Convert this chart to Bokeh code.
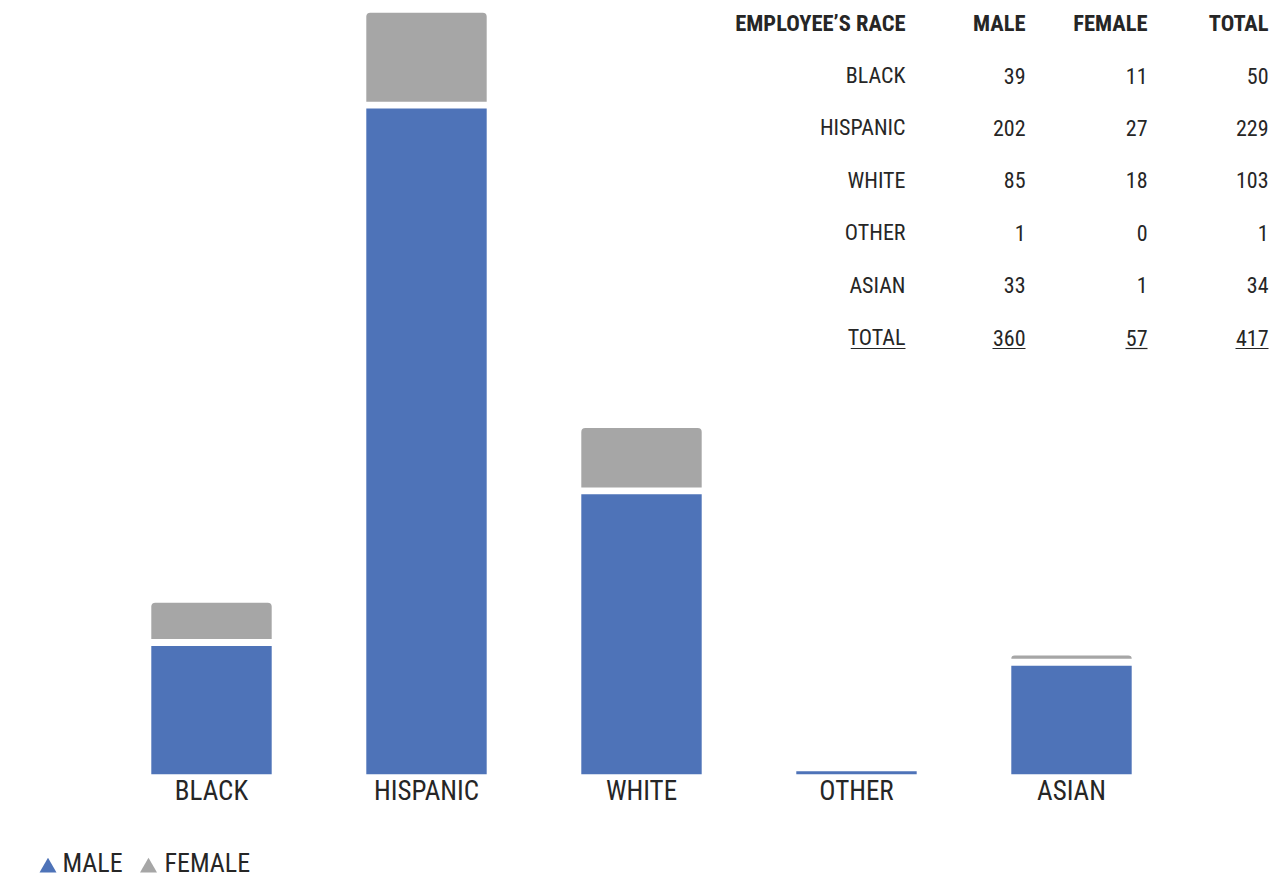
from bokeh.plotting import figure
from bokeh.layouts import column
from bokeh.models import Range1d, FixedTicker, ColumnDataSource
from bokeh.core.properties import value
from bokeh.embed import file_html
from bokeh.resources import INLINE

# ---------------- data ----------------
categories = ["BLACK", "HISPANIC", "WHITE", "OTHER", "ASIAN"]
male = [39, 202, 85, 1, 33]
female = [11, 27, 18, 0, 1]
series_names = ["MALE", "FEMALE"]
table_header = ["EMPLOYEE\u2019S RACE", "MALE", "FEMALE", "TOTAL"]
total_label = "TOTAL"

totals = [m + f for m, f in zip(male, female)]

# ---------------- style ----------------
BLUE = "#4E73B8"
GRAY = "#A6A6A6"
TEXT = "#262626"
FONT = "Roboto Condensed, DejaVu Sans Condensed, Roboto"
GAP = 2.1  # white gap between stacked segments (data units)

W = 1278
H_MAIN, H_LEG = 819, 60
FRAME_BOTTOM = 774

p = figure(width=W, height=H_MAIN, output_backend="svg", toolbar_location=None,
           x_range=Range1d(-0.9814, 4.9628), y_range=Range1d(0, 234.8),
           y_axis_location=None,
           min_border_left=0, min_border_right=0, min_border_top=0,
           min_border_bottom=H_MAIN - FRAME_BOTTOM, outline_line_color=None)
p.grid.visible = False
p.border_fill_color = "white"

xs = list(range(len(categories)))
src = ColumnDataSource(dict(
    x=xs, cat=categories, male=male, female=female,
    fb=[m + GAP for m in male],
    ft=[m + f + GAP for m, f in zip(male, female)],
))

p.vbar(x="x", width=0.56, bottom=0, top="male", source=src,
       fill_color=BLUE, line_color=None)
p.vbar(x="x", width=0.56, bottom="fb", top="ft", source=src,
       fill_color=GRAY, line_color=None, border_radius=(4, 4, 0, 0))

# x axis with category labels
ax = p.xaxis[0]
ax.ticker = FixedTicker(ticks=xs)
ax.major_label_overrides = {i: c for i, c in zip(xs, categories)}
ax.axis_line_color = None
ax.major_tick_line_color = None
ax.minor_tick_line_color = None
ax.major_tick_out = 0
ax.major_label_standoff = 0
ax.major_label_text_font = FONT
ax.major_label_text_font_size = "27px"
ax.major_label_text_color = TEXT

# ---------------- table (pixel-space ranges) ----------------
p.extra_x_ranges = {"px": Range1d(0, W)}
p.extra_y_ranges = {"px": Range1d(FRAME_BOTTOM, 0)}

col_right = [905, 1025, 1147, 1268]
header_y = 22
row_y0 = 75
row_step = 52.4

p.text(x=col_right, y=[header_y] * len(col_right), text=table_header,
       x_range_name="px", y_range_name="px",
       text_align="right", text_baseline="middle", text_font=value(FONT),
       text_font_size="22.5px", text_font_style="bold", text_color=TEXT)

rows = [[c, str(m), str(f), str(t)] for c, m, f, t in zip(categories, male, female, totals)]
total_row = [total_label, str(sum(male)), str(sum(female)), str(sum(totals))]
rows_all = rows + [total_row]

tx, ty, tt = [], [], []
for i, r in enumerate(rows_all):
    for cx, t in zip(col_right, r):
        tx.append(cx); ty.append(row_y0 + i * row_step); tt.append(t)
p.text(x=tx, y=ty, text=tt, x_range_name="px", y_range_name="px",
       text_align="right", text_baseline="middle", text_font=value(FONT),
       text_font_size="22px", text_color=TEXT)

# underline for total row (approximate text widths with condensed-font metrics)
cw = {"T": 0.49, "O": 0.55, "A": 0.53, "L": 0.43}
def text_w(s, size=22):
    return sum(cw.get(ch, 0.50) for ch in s) * size

uy = row_y0 + len(rows) * row_step + 11
ux0 = [cx - text_w(t) for cx, t in zip(col_right, total_row)]
p.segment(x0=ux0, x1=col_right, y0=[uy] * 4, y1=[uy] * 4,
          x_range_name="px", y_range_name="px", line_color=TEXT, line_width=1.2)

# ---------------- legend (own strip below the chart) ----------------
lg = figure(width=W, height=H_LEG, output_backend="svg", toolbar_location=None,
            x_range=Range1d(0, W), y_range=Range1d(H_LEG, 0),
            x_axis_location=None, y_axis_location=None,
            min_border_left=0, min_border_right=0, min_border_top=0,
            min_border_bottom=0, outline_line_color=None)
lg.grid.visible = False
leg_marker_x = [47.5, 148]
leg_text_x = [62, 164]
lg.scatter(x=leg_marker_x, y=[48, 48], marker="triangle", size=17,
           fill_color=[BLUE, GRAY], line_color=None)
lg.text(x=leg_text_x, y=[43, 43], text=series_names, text_align="left",
        text_baseline="middle", text_font=value(FONT), text_font_size="26px",
        text_color=TEXT)

layout = column(p, lg, spacing=0)
open("out.html", "w").write(file_html(layout, INLINE))
